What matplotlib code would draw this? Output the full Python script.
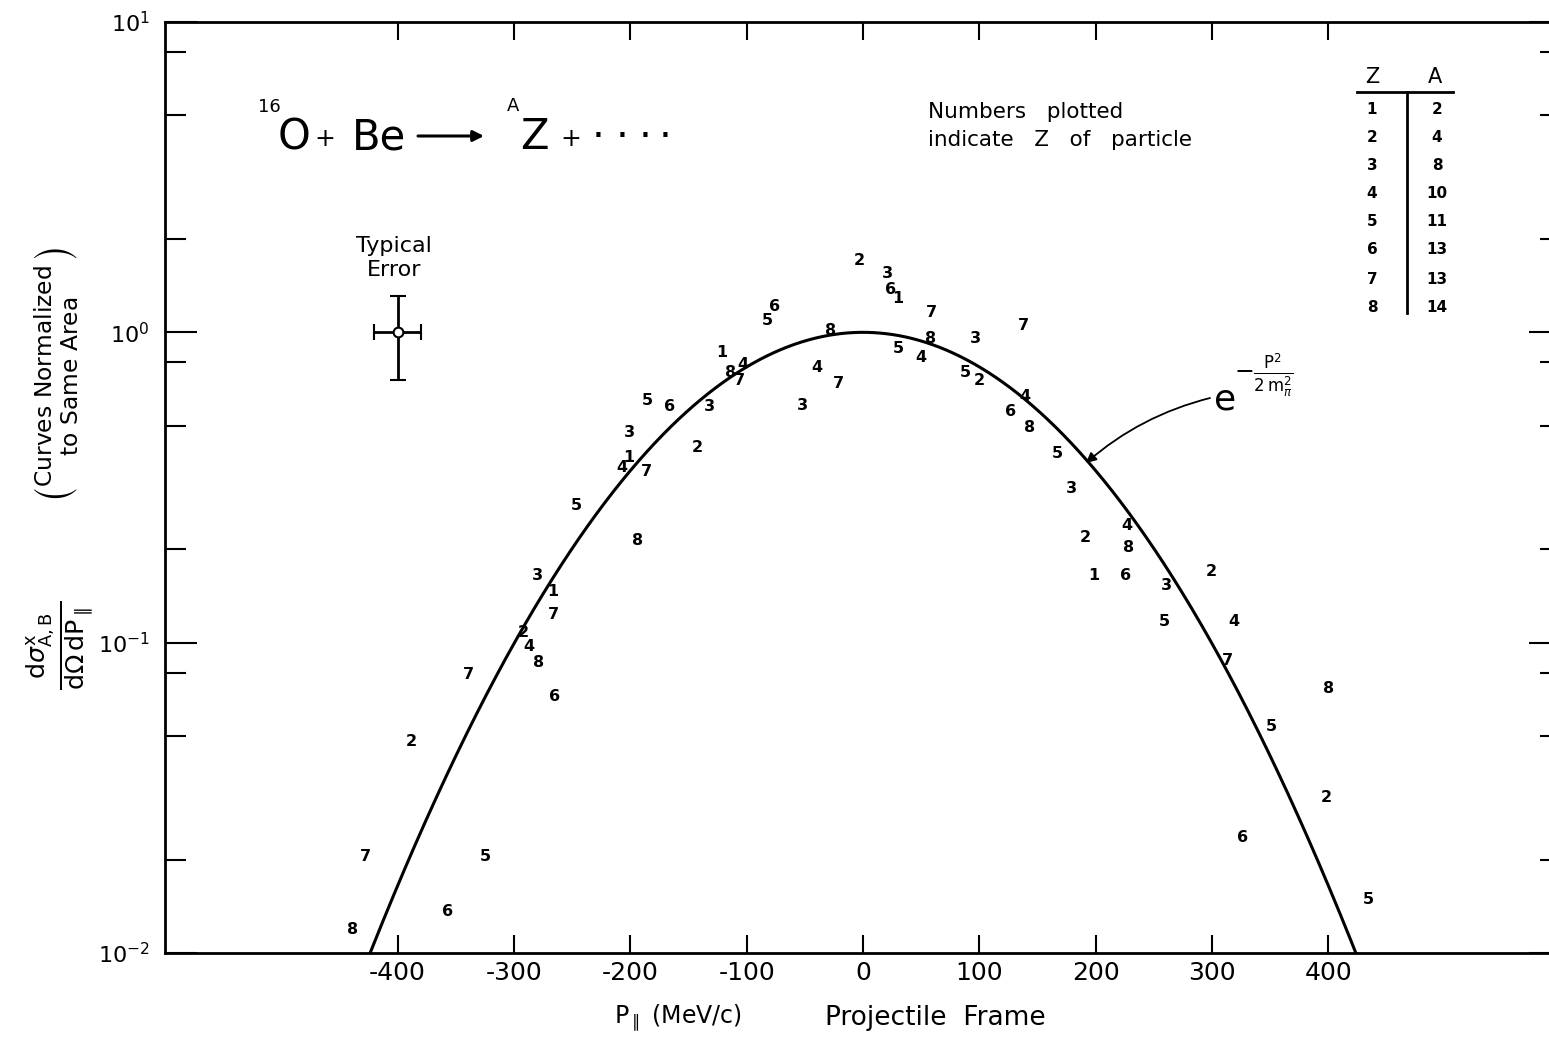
import numpy as np
import matplotlib
matplotlib.use("Agg")
import matplotlib.pyplot as plt
from matplotlib.ticker import FixedLocator, LogLocator, NullFormatter, NullLocator
from matplotlib.lines import Line2D

plt.rcParams['font.family'] = ['DejaVu Sans']
plt.rcParams['axes.unicode_minus'] = False

# ---------------- data ----------------
# longitudinal momentum P_par (MeV/c), normalized cross section, Z of fragment
p_par = [-439, -428, -357, -325, -388, -339, -265, -279, -287, -292,
         -266, -267, -280, -194, -246, -186, -207, -201, -142, -201,
         -132, -166, -185, -106, -114, -103, -121, -52, -21, -40,
         -28, -82, -76, -3, 21, 24, 30, 59, 58, 30,
         50, 97, 138, 88, 100, 139, 127, 143, 167, 179,
         227, 191, 228, 198, 226, 299, 261, 259, 319, 313,
         400, 351, 398, 326, 434]
dsig = [0.0119, 0.0204, 0.0136, 0.0204, 0.0479, 0.0787, 0.0673, 0.0860, 0.0975, 0.108,
        0.123, 0.146, 0.164, 0.214, 0.276, 0.355, 0.368, 0.394, 0.427, 0.474,
        0.575, 0.575, 0.601, 0.697, 0.740, 0.785, 0.858, 0.583, 0.682, 0.773,
        1.01, 1.09, 1.21, 1.71, 1.55, 1.37, 1.29, 1.16, 0.952, 0.884,
        0.827, 0.952, 1.05, 0.745, 0.697, 0.623, 0.554, 0.495, 0.408, 0.315,
        0.238, 0.218, 0.203, 0.165, 0.164, 0.169, 0.153, 0.117, 0.117, 0.0879,
        0.0714, 0.0535, 0.0316, 0.0235, 0.0149]
z_frag = [8, 7, 6, 5, 2, 7, 6, 8, 4, 2,
          7, 1, 3, 8, 5, 7, 4, 1, 2, 3,
          3, 6, 5, 7, 8, 4, 1, 3, 7, 4,
          8, 5, 6, 2, 3, 6, 1, 7, 8, 5,
          4, 3, 7, 5, 2, 4, 6, 8, 5, 3,
          4, 2, 8, 1, 6, 2, 3, 5, 4, 7,
          8, 5, 2, 6, 5]

# Z / A table
table_z = ['1', '2', '3', '4', '5', '6', '7', '8']
table_a = ['2', '4', '8', '10', '11', '13', '13', '14']

# typical error
err_p = [-400]
err_y = [1.0]
err_p_lo, err_p_hi = [20], [20]
err_y_lo, err_y_hi = [0.30], [0.31]

# Gaussian curve parameter (pion mass, MeV/c)
M_PI = 139.6

x_ticks = [-400, -300, -200, -100, 0, 100, 200, 300, 400]
y_major = [1e-2, 1e-1, 1e0, 1e1]

# ---------------- figure ----------------
W, H = 1549, 1040


def F(x, y):
    return (x / W, 1 - y / H)


fig = plt.figure(figsize=(W / 100, H / 100), dpi=100)
ax = fig.add_axes([165 / W, 1 - 953 / H, 1396 / W, (953 - 22) / H])
ax.set_yscale('log')
ax.set_xlim(-600, 600)
ax.set_ylim(1e-2, 1e1)

p = np.linspace(-450, 450, 1801)
ax.plot(p, np.exp(-p ** 2 / (2 * M_PI ** 2)), color='black', lw=2.2)

for x, y, z in zip(p_par, dsig, z_frag):
    ax.text(x, y, str(z), ha='center', va='center', fontsize=11.5,
            fontweight='bold', color='black')

ax.errorbar(err_p, err_y, xerr=[err_p_lo, err_p_hi], yerr=[err_y_lo, err_y_hi],
            fmt='o', mfc='white', mec='black', mew=1.5, ms=7, ecolor='black',
            elinewidth=2, capsize=6, capthick=2)

for s in ax.spines.values():
    s.set_linewidth(2.0)

ax.xaxis.set_major_locator(FixedLocator(x_ticks))
ax.xaxis.set_minor_locator(NullLocator())
ax.yaxis.set_major_locator(FixedLocator(y_major))
ax.yaxis.set_minor_locator(LogLocator(base=10, subs=[2, 5, 8]))
ax.yaxis.set_minor_formatter(NullFormatter())
ax.tick_params(axis='both', which='both', direction='in', top=True, right=True,
               width=1.5, colors='black')
ax.tick_params(axis='x', which='major', length=13, labelsize=18, pad=6)
ax.tick_params(axis='y', which='major', length=23, labelsize=16, pad=11)
ax.tick_params(axis='y', which='minor', length=15)

# x label
fig.text(*F(678, 1018), r'$\mathrm{P}_{\parallel}$ (MeV/c)', ha='center', va='center',
         fontsize=17)
fig.text(*F(935, 1018), 'Projectile  Frame', ha='center', va='center', fontsize=19)

# y label
fig.text(*F(60, 645),
         r'$\frac{\mathrm{d}\sigma^{\mathrm{x}}_{\mathrm{A,B}}}{\mathrm{d}\Omega\,\mathrm{dP}_{\parallel}}$',
         rotation=90, ha='center', va='center', fontsize=26)
fig.text(*F(57, 375), r'$\binom{\mathrm{Curves\ Normalized}}{\mathrm{to\ Same\ Area}}$',
         rotation=90, ha='center', va='center', fontsize=24)

# reaction title
fig.text(*F(269, 107), '16', ha='center', va='center', fontsize=13)
fig.text(*F(294, 137), 'O', ha='center', va='center', fontsize=30)
fig.text(*F(325, 139), '+', ha='center', va='center', fontsize=18)
fig.text(*F(379, 137), 'Be', ha='center', va='center', fontsize=30)
ax.annotate('', xy=F(484, 136), xytext=F(418, 136), xycoords='figure fraction',
            textcoords='figure fraction',
            arrowprops=dict(arrowstyle='-|>', color='black', lw=2.2,
                            shrinkA=0, shrinkB=0, mutation_scale=16))
fig.text(*F(513, 106), 'A', ha='center', va='center', fontsize=13)
fig.text(*F(534, 137), 'Z', ha='center', va='center', fontsize=30)
fig.text(*F(571, 139), '+', ha='center', va='center', fontsize=18)
for dx in [598, 622, 645, 665]:
    fig.text(*F(dx, 136), '\u00b7', ha='center', va='center', fontsize=17,
             fontweight='bold')

fig.text(*F(928, 126), 'Numbers   plotted\nindicate   Z   of   particle', ha='left',
         va='center', fontsize=15.5, linespacing=1.45)

fig.text(*F(394, 258), 'Typical\nError', ha='center', va='center', fontsize=16,
         linespacing=1.3)

# formula
fig.text(*F(1225, 399), 'e', ha='center', va='center', fontsize=26)
fig.text(*F(1264, 375), r'$-\frac{\mathrm{P}^2}{2\,\mathrm{m}_\pi^2}$', ha='center',
         va='center', fontsize=17)
ax.annotate('', xy=F(1086, 463), xytext=F(1210, 398), xycoords='figure fraction',
            textcoords='figure fraction',
            arrowprops=dict(arrowstyle='-|>', connectionstyle='arc3,rad=0.12',
                            color='black', lw=1.3, shrinkA=0, shrinkB=0,
                            mutation_scale=15))

# Z / A table
fig.text(*F(1372, 77), 'Z', ha='center', va='center', fontsize=15)
fig.text(*F(1435, 77), 'A', ha='center', va='center', fontsize=15)
fig.add_artist(Line2D([1357 / W, 1453 / W], [1 - 92 / H, 1 - 92 / H],
                      transform=fig.transFigure, color='black', lw=2))
fig.add_artist(Line2D([1407 / W, 1407 / W], [1 - 92 / H, 1 - 313 / H],
                      transform=fig.transFigure, color='black', lw=2))
row_y = [110, 137, 165, 193, 222, 250, 280, 307]
for zt, at, ry in zip(table_z, table_a, row_y):
    fig.text(*F(1372, ry), zt, ha='center', va='center', fontsize=11, fontweight='bold')
    fig.text(*F(1437, ry), at, ha='center', va='center', fontsize=11, fontweight='bold')

fig.savefig('out.png', dpi=100)
